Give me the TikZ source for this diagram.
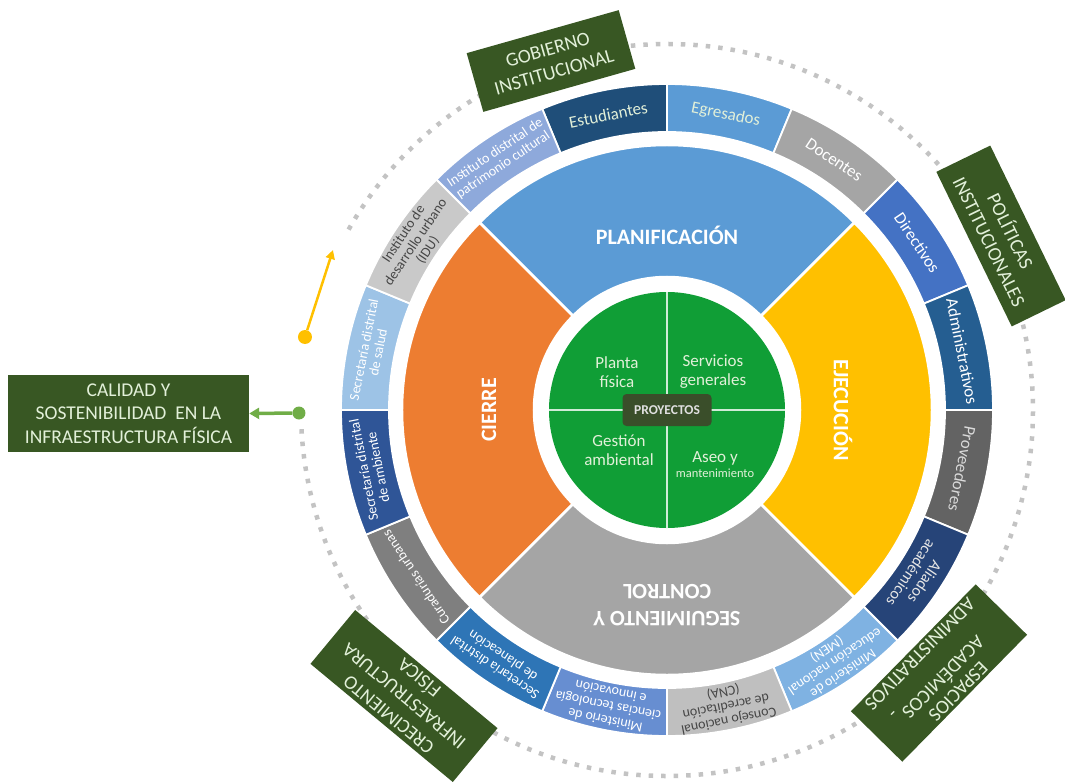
\documentclass[tikz,border=0pt]{standalone}
\usepackage{fontspec}
\setmainfont{Carlito}
\usetikzlibrary{arrows.meta}

\definecolor{cPlan}{RGB}{91,155,213}
\definecolor{cEjec}{RGB}{255,192,0}
\definecolor{cSeg}{RGB}{165,165,165}
\definecolor{cCierre}{RGB}{237,125,49}
\definecolor{cHub}{RGB}{16,158,54}
\definecolor{cProj}{RGB}{58,78,42}
\definecolor{cDark}{RGB}{56,87,35}
\definecolor{cPale}{RGB}{226,240,217}
\definecolor{cDots}{RGB}{195,195,195}
\definecolor{cArrG}{RGB}{112,173,71}
\definecolor{cArrY}{RGB}{255,192,0}
% outer ring colours
\definecolor{cEst}{RGB}{31,78,121}
\definecolor{cEgr}{RGB}{91,155,213}
\definecolor{cDoc}{RGB}{165,165,165}
\definecolor{cDir}{RGB}{68,114,196}
\definecolor{cAdm}{RGB}{37,94,145}
\definecolor{cProv}{RGB}{99,99,99}
\definecolor{cAli}{RGB}{38,68,120}
\definecolor{cMen}{RGB}{127,178,226}
\definecolor{cCna}{RGB}{191,191,191}
\definecolor{cMin}{RGB}{103,142,209}
\definecolor{cPlac}{RGB}{46,117,182}
\definecolor{cCur}{RGB}{127,127,127}
\definecolor{cAmb}{RGB}{47,85,151}
\definecolor{cSal}{RGB}{157,195,230}
\definecolor{cIdu}{RGB}{201,201,201}
\definecolor{cPat}{RGB}{142,169,219}
\definecolor{cTxtDark}{RGB}{70,70,70}

\begin{document}
\begin{tikzpicture}[x=1pt,y=1pt]

	% Styles
	\tikzstyle{seg}=[draw=white, line width=1.8pt]
	\tikzstyle{midseg}=[draw=white, line width=2.5pt]
	\tikzstyle{lblbig}=[font=\fontsize{17}{19}\selectfont, align=center, inner sep=0pt]
	\tikzstyle{lblmid}=[font=\fontsize{16}{16.5}\selectfont, align=center, inner sep=0pt]
	\tikzstyle{lblsmall}=[font=\fontsize{14}{14.5}\selectfont, align=center, inner sep=0pt]
	\tikzstyle{phase}=[font=\bfseries\fontsize{22}{27}\selectfont, text=white, align=center, inner sep=0pt]
	\tikzstyle{quad}=[font=\fontsize{17}{19}\selectfont, text=cPale, align=center, inner sep=0pt]
	\tikzstyle{theme}=[
	rectangle,
	fill=cDark,
	text=cPale,
	font=\fontsize{19.5}{23.5}\selectfont,
	align=center,
	inner sep=0pt
	]
	\tikzstyle{dotring}=[cDots, line width=4.5pt, dash pattern=on 4.5pt off 8pt]

	\useasboundingbox (-667,-372) rectangle (398,410);

	% --- Dotted ring ---
	\draw[dotring] (183:366pt) arc[start angle=183, end angle=511.7, radius=366pt];

	% --- Outer ring: actors ---
	\path[seg, fill=cEst] (90:278pt) arc[start angle=90, end angle=112.5, radius=278pt] -- (112.5:326pt) arc[start angle=112.5, end angle=90, radius=326pt] -- cycle;
	\path[seg, fill=cEgr] (67.5:278pt) arc[start angle=67.5, end angle=90, radius=278pt] -- (90:326pt) arc[start angle=90, end angle=67.5, radius=326pt] -- cycle;
	\path[seg, fill=cDoc] (45:278pt) arc[start angle=45, end angle=67.5, radius=278pt] -- (67.5:326pt) arc[start angle=67.5, end angle=45, radius=326pt] -- cycle;
	\path[seg, fill=cDir] (22.5:278pt) arc[start angle=22.5, end angle=45, radius=278pt] -- (45:326pt) arc[start angle=45, end angle=22.5, radius=326pt] -- cycle;
	\path[seg, fill=cAdm] (0:278pt) arc[start angle=0, end angle=22.5, radius=278pt] -- (22.5:326pt) arc[start angle=22.5, end angle=0, radius=326pt] -- cycle;
	\path[seg, fill=cProv] (-22.5:278pt) arc[start angle=-22.5, end angle=0, radius=278pt] -- (0:326pt) arc[start angle=0, end angle=-22.5, radius=326pt] -- cycle;
	\path[seg, fill=cAli] (-45:278pt) arc[start angle=-45, end angle=-22.5, radius=278pt] -- (-22.5:326pt) arc[start angle=-22.5, end angle=-45, radius=326pt] -- cycle;
	\path[seg, fill=cMen] (-67.5:278pt) arc[start angle=-67.5, end angle=-45, radius=278pt] -- (-45:326pt) arc[start angle=-45, end angle=-67.5, radius=326pt] -- cycle;
	\path[seg, fill=cCna] (-90:278pt) arc[start angle=-90, end angle=-67.5, radius=278pt] -- (-67.5:326pt) arc[start angle=-67.5, end angle=-90, radius=326pt] -- cycle;
	\path[seg, fill=cMin] (-112.5:278pt) arc[start angle=-112.5, end angle=-90, radius=278pt] -- (-90:326pt) arc[start angle=-90, end angle=-112.5, radius=326pt] -- cycle;
	\path[seg, fill=cPlac] (-135:278pt) arc[start angle=-135, end angle=-112.5, radius=278pt] -- (-112.5:326pt) arc[start angle=-112.5, end angle=-135, radius=326pt] -- cycle;
	\path[seg, fill=cCur] (-157.5:278pt) arc[start angle=-157.5, end angle=-135, radius=278pt] -- (-135:326pt) arc[start angle=-135, end angle=-157.5, radius=326pt] -- cycle;
	\path[seg, fill=cAmb] (-180:278pt) arc[start angle=-180, end angle=-157.5, radius=278pt] -- (-157.5:326pt) arc[start angle=-157.5, end angle=-180, radius=326pt] -- cycle;
	\path[seg, fill=cSal] (157.5:278pt) arc[start angle=157.5, end angle=180, radius=278pt] -- (180:326pt) arc[start angle=180, end angle=157.5, radius=326pt] -- cycle;
	\path[seg, fill=cIdu] (135:278pt) arc[start angle=135, end angle=157.5, radius=278pt] -- (157.5:326pt) arc[start angle=157.5, end angle=135, radius=326pt] -- cycle;
	\path[seg, fill=cPat] (112.5:278pt) arc[start angle=112.5, end angle=135, radius=278pt] -- (135:326pt) arc[start angle=135, end angle=112.5, radius=326pt] -- cycle;

	\node[lblbig, text=cPale, rotate=11.25] (est) at (101.25:301pt) {Estudiantes};
	\node[lblbig, text=cPale, rotate=-11.25] (egr) at (78.75:301pt) {Egresados};
	\node[lblbig, text=white, rotate=-33.75] (doc) at (56.25:301pt) {Docentes};
	\node[lblbig, text=white, rotate=-56.25] (dir) at (33.75:301pt) {Directivos};
	\node[lblbig, text=white, rotate=-78.75] (adm) at (11.25:301pt) {Administrativos};
	\node[lblbig, text=white!85!black, rotate=-101.25] (prov) at (-11.25:301pt) {Proveedores};
	\node[lblmid, text=white!90!black, rotate=-123.75] (ali) at (-33.75:302pt) {Aliados\\académicos};
	\node[lblsmall, text=white, rotate=-146.25] (men) at (-56.25:302pt) {Ministerio de\\educación nacional\\(MEN)};
	\node[lblsmall, text=cTxtDark, rotate=-168.75] (cna) at (-78.75:302pt) {Consejo nacional\\de acreditación\\(CNA)};
	\node[lblsmall, text=white, rotate=168.75] (min) at (-101.25:302pt) {Ministerio de\\ciencias tecnología\\e innovación};
	\node[lblsmall, text=white, rotate=146.25] (plac) at (-123.75:302pt) {Secretaría distrital\\de planeación};
	\node[lblsmall, text=white, rotate=123.75] (cur) at (-146.25:302pt) {Curadurías urbanas};
	\node[lblsmall, text=white, rotate=101.25] (amb) at (-168.75:302pt) {Secretaría distrital\\de ambiente};
	\node[lblsmall, text=white, rotate=78.75] (sal) at (168.75:302pt) {Secretaría distrital\\de salud};
	\node[lblsmall, text=cTxtDark, rotate=56.25] (idu) at (146.25:302pt) {Instituto de\\desarrollo urbano\\(IDU)};
	\node[lblsmall, text=white, rotate=33.75] (pat) at (123.75:302pt) {Instituto distrital de\\patrimonio cultural};

	% --- Middle ring: phases ---
	\path[midseg, fill=cPlan] (45:133pt) arc[start angle=45, end angle=135, radius=133pt] -- (135:265pt) arc[start angle=135, end angle=45, radius=265pt] -- cycle;
	\path[midseg, fill=cCierre] (135:133pt) arc[start angle=135, end angle=225, radius=133pt] -- (225:265pt) arc[start angle=225, end angle=135, radius=265pt] -- cycle;
	\path[midseg, fill=cSeg] (225:133pt) arc[start angle=225, end angle=315, radius=133pt] -- (315:265pt) arc[start angle=315, end angle=225, radius=265pt] -- cycle;
	\path[midseg, fill=cEjec] (-45:133pt) arc[start angle=-45, end angle=45, radius=133pt] -- (45:265pt) arc[start angle=45, end angle=-45, radius=265pt] -- cycle;

	\node[phase] (planif) at (90:175pt) {PLANIFICACIÓN};
	\node[phase, rotate=-90] (ejec) at (0:176pt) {EJECUCIÓN};
	\node[phase, rotate=180] (seguim) at (-90:195pt) {SEGUIMIENTO Y\\CONTROL};
	\node[phase, rotate=90] (cierre) at (180:178pt) {CIERRE};

	% --- Centre: projects ---
	\node[circle, fill=cHub, minimum size=236pt, inner sep=0pt] (hub) at (0,0) {};
	\draw[white!80!cHub, line width=1.5pt] (hub.north) -- (hub.south);
	\draw[white!80!cHub, line width=1.5pt] (hub.west) -- (hub.east);

	\node[quad] (planta) at (-50,38) {Planta\\física};
	\node[quad] (servicios) at (46,38) {Servicios\\generales};
	\node[quad] (gestion) at (-48,-40) {Gestión\\ambiental};
	\node[quad] (aseo) at (48,-55) {Aseo y\\[-4pt]{\fontsize{12.5}{14}\selectfont mantenimiento}};

	\node[rectangle, rounded corners=4pt, fill=cProj, text=white!88!black,
	font=\bfseries\fontsize{13.5}{15}\selectfont, minimum width=89pt, minimum height=32pt] (proy) at (0,0) {PROYECTOS};

	% --- Themes around the wheel ---
	\node[theme, rotate=15.8, minimum width=158pt, minimum height=61pt] (gobierno) at (-116,349) {GOBIERNO\\INSTITUCIONAL};
	\node[theme, rotate=-64, minimum width=172pt, minimum height=60pt] (politicas) at (334,174) {POLÍTICAS\\INSTITUCIONALES};
	\node[theme, rotate=-134.5, minimum width=178pt, minimum height=72pt, font=\fontsize{19.5}{21}\selectfont] (espacios) at (272,-263) {ESPACIOS\\ACADÉMICOS\rlap{\hspace{4pt}\raisebox{-10pt}{-}}\\[9pt]ADMINISTRATIVOS};
	\node[theme, rotate=140.3, minimum width=185pt, minimum height=70pt, font=\fontsize{19.5}{24}\selectfont] (crecim) at (-263,-286) {CRECIMIENTO\\INFRAESTRUCTURA\\FÍSICA};
	\node[theme, minimum width=241pt, minimum height=77pt] (calidad) at (-538.5,-3.5) {CALIDAD Y\\SOSTENIBILIDAD\ \ EN LA\\INFRAESTRUCTURA FÍSICA};

	% --- Arrows ---
	\node[circle, fill=cArrG, minimum size=13pt, inner sep=0pt] (gdot) at (-368,-3) {};
	\draw[cArrG, line width=3.5pt, -{Triangle[length=10pt,width=11pt]}] (gdot) -- (calidad.east);
	\node[circle, fill=cArrY, minimum size=14pt, inner sep=0pt] (ydot) at (-362,73) {};
	\coordinate (ytip) at (-334,160);
	\draw[cArrY, line width=2.5pt, -{Triangle[length=9pt,width=9pt]}] (ydot) -- (ytip);
\end{tikzpicture}
\end{document}
